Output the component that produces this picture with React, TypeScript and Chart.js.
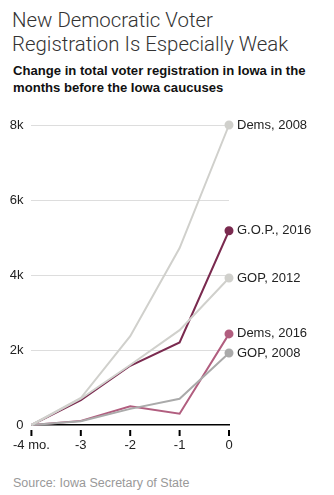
import React, { useEffect, useRef } from "react";
import { Chart, registerables } from "chart.js";

Chart.register(...registerables);

const months = [-4, -3, -2, -1, 0];
const tickLabels = ["-4 mo.", "-3", "-2", "-1", "0"];
const dems2008 = [0, 720, 2370, 4720, 8000];
const gop2012 = [0, 700, 1600, 2530, 3920];
const gop2016 = [0, 660, 1580, 2200, 5180];
const dems2016 = [0, 110, 500, 300, 2430];
const gop2008 = [0, 100, 430, 700, 1920];

const seriesNames = ["Dems, 2008", "GOP, 2012", "GOP, 2008", "Dems, 2016", "G.O.P., 2016"];
const seriesValues = [dems2008, gop2012, gop2008, dems2016, gop2016];
const seriesColors = ["#d0d0cc", "#d0d0cc", "#aaaaaa", "#b15e7f", "#7a2a4f"];

const FONT = "'Liberation Sans', Arial, sans-serif";

export default function App() {
  const ref = useRef<HTMLCanvasElement>(null);

  useEffect(() => {
    document.body.style.margin = "0";
    const canvas = ref.current!;
    const labelPlugin = {
      id: "endLabels",
      afterDraw(chart: any) {
        const ctx = chart.ctx;
        ctx.save();
        const xs = chart.scales.x;
        const bottom = chart.chartArea.bottom;
        ctx.strokeStyle = "#000000";
        ctx.lineWidth = 2;
        ctx.setLineDash([]);
        for (const m of months) {
          const x = xs.getPixelForValue(m);
          ctx.beginPath();
          ctx.moveTo(x, bottom + 5);
          ctx.lineTo(x, bottom + 11);
          ctx.stroke();
        }
        ctx.font = `13px ${FONT}`;
        ctx.fillStyle = "#222";
        ctx.textBaseline = "middle";
        chart.data.datasets.forEach((ds: any, i: number) => {
          const meta = chart.getDatasetMeta(i);
          const pt = meta.data[meta.data.length - 1];
          ctx.fillText(ds.label, pt.x + 8, pt.y);
        });
        ctx.restore();
      },
    };

    const chart = new Chart(canvas, {
      type: "line",
      data: {
        datasets: seriesNames.map((name, i) => ({
          label: name,
          data: months.map((m, j) => ({ x: m, y: seriesValues[i][j] })),
          borderColor: seriesColors[i],
          backgroundColor: seriesColors[i],
          borderWidth: 2,
          pointRadius: months.map((m) => (m === 0 ? 3.5 : 0)),
          pointHoverRadius: 0,
          tension: 0,
          clip: false as any,
        })),
      },
      options: {
        animation: false,
        responsive: false,
        maintainAspectRatio: false,
        layout: { padding: { top: 25, right: 105, left: 0, bottom: 0 } },
        plugins: { legend: { display: false }, tooltip: { enabled: false } },
        scales: {
          x: {
            type: "linear",
            min: -4,
            max: 0,
            afterFit: (s: any) => {
              s.height = 35;
            },
            ticks: {
              stepSize: 1,
              padding: 13,
              color: "#222",
              font: { size: 13, family: FONT },
              callback: (v: any) => tickLabels[months.indexOf(Number(v))] ?? "",
              maxRotation: 0,
            },
            grid: { display: false, drawTicks: false },
            border: { display: true, color: "#000", width: 1.5 },
          },
          y: {
            type: "linear",
            min: 0,
            max: 8000,
            afterFit: (s: any) => {
              s.width = 29;
            },
            ticks: {
              stepSize: 2000,
              padding: 8,
              color: "#222",
              font: { size: 13, family: FONT },
              callback: (v: any) => (Number(v) === 0 ? "0" : Number(v) / 1000 + "k"),
            },
            grid: {
              drawTicks: false,
              color: (c: any) => (c.tick && c.tick.value === 0 ? "rgba(0,0,0,0)" : "#dddddd"),
              lineWidth: 1,
            },
            border: { display: false },
          },
        },
      },
      plugins: [labelPlugin],
    });
    return () => chart.destroy();
  }, []);

  return (
    <div style={{ position: "relative", width: 334, height: 495, background: "#fff", overflow: "hidden" }}>
      <div
        style={{
          position: "absolute",
          left: 12,
          top: 8,
          width: 322,
          fontFamily: "Roboto, 'Liberation Sans', sans-serif",
          fontWeight: 300,
          fontSize: 20.4,
          lineHeight: "24px",
          color: "#333",
        }}
      >
        New Democratic Voter
        <br />
        Registration Is Especially Weak
      </div>
      <div
        style={{
          position: "absolute",
          left: 13,
          top: 62,
          width: 322,
          fontFamily: FONT,
          fontWeight: 700,
          fontSize: 13.1,
          lineHeight: "17px",
          color: "#111",
        }}
      >
        Change in total voter registration in Iowa in the
        <br />
        months before the Iowa caucuses
      </div>
      <canvas ref={ref} width={334} height={360} style={{ position: "absolute", left: 0, top: 100 }} />
      <div
        style={{
          position: "absolute",
          left: 13,
          top: 476,
          fontFamily: FONT,
          fontSize: 12.5,
          color: "#999",
        }}
      >
        Source: Iowa Secretary of State
      </div>
    </div>
  );
}
